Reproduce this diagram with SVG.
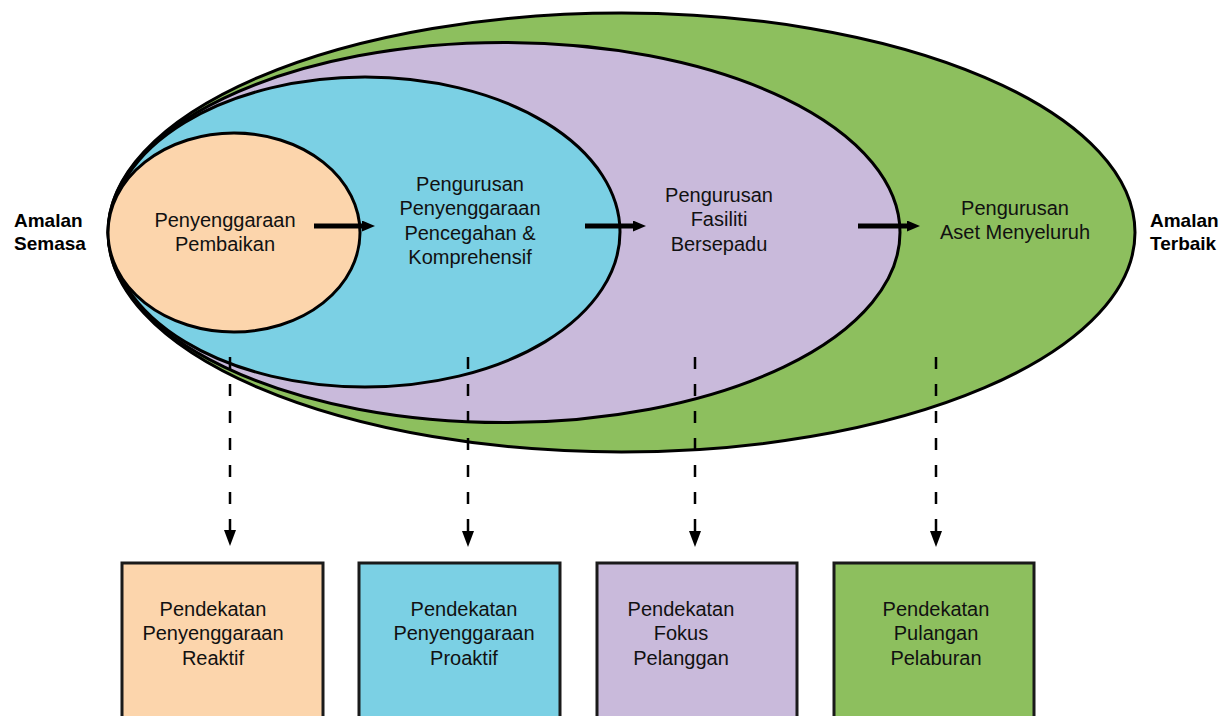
<svg xmlns="http://www.w3.org/2000/svg" width="1228" height="716" viewBox="0 0 1228 716">
<style>
.e{stroke:#000;stroke-width:3}
.t{font-family:"Liberation Sans",Arial,sans-serif;font-size:20px;fill:#111;text-anchor:middle}
.b{font-family:"Liberation Sans",Arial,sans-serif;font-size:19px;font-weight:bold;fill:#000}
.box{stroke:#1a1a1a;stroke-width:3}
.thick{stroke:#000;stroke-width:5;fill:none}
.dash{stroke:#000;stroke-width:2.5;fill:none;stroke-dasharray:12 15}
</style>
<defs>
<marker id="ah" markerUnits="userSpaceOnUse" viewBox="0 0 13 11" markerWidth="13" markerHeight="11" refX="1" refY="5.5" orient="auto">
<path d="M0,0 L13,5.5 L0,11 z" fill="#000"/>
</marker>
<marker id="dh" markerUnits="userSpaceOnUse" viewBox="0 0 16 12" markerWidth="16" markerHeight="12" refX="0" refY="6" orient="auto">
<path d="M0,0 L16,6 L0,12 z" fill="#000"/>
</marker>
</defs>
<rect width="1228" height="716" fill="#fff"/>
<g id="green"><ellipse class="e" cx="621.5" cy="232.5" rx="513.5" ry="219.5" fill="#8DBF5E"/></g>
<g id="purple"><ellipse class="e" cx="504" cy="232.5" rx="396" ry="190" fill="#C9BADB"/></g>
<g id="blue"><ellipse class="e" cx="365" cy="232" rx="255" ry="155" fill="#7BD0E4"/></g>
<g id="orange"><ellipse class="e" cx="234" cy="232.5" rx="126" ry="99.5" fill="#FCD5AC"/></g>
<g id="label-orange"><text class="t" x="225" y="227">Penyenggaraan</text><text class="t" x="225" y="251">Pembaikan</text></g>
<g id="label-blue"><text class="t" x="470" y="191">Pengurusan</text><text class="t" x="470" y="215">Penyenggaraan</text><text class="t" x="470" y="240">Pencegahan &amp;</text><text class="t" x="470" y="264">Komprehensif</text></g>
<g id="label-purple"><text class="t" x="719" y="202">Pengurusan</text><text class="t" x="719" y="226">Fasiliti</text><text class="t" x="719" y="251">Bersepadu</text></g>
<g id="label-green"><text class="t" x="1015" y="215">Pengurusan</text><text class="t" x="1015" y="239">Aset Menyeluruh</text></g>
<g id="amalan-semasa"><text class="b" x="14" y="227">Amalan</text><text class="b" x="14" y="250">Semasa</text></g>
<g id="amalan-terbaik"><text class="b" x="1150" y="227">Amalan</text><text class="b" x="1150" y="250">Terbaik</text></g>
<g id="box1"><rect class="box" x="122" y="563" width="201" height="170" fill="#FCD5AC"/><text class="t" x="213" y="616">Pendekatan</text><text class="t" x="213" y="640">Penyenggaraan</text><text class="t" x="213" y="665">Reaktif</text></g>
<g id="box2"><rect class="box" x="359" y="563" width="201" height="170" fill="#7BD0E4"/><text class="t" x="464" y="616">Pendekatan</text><text class="t" x="464" y="640">Penyenggaraan</text><text class="t" x="464" y="665">Proaktif</text></g>
<g id="box3"><rect class="box" x="597" y="563" width="200" height="170" fill="#C9BADB"/><text class="t" x="681" y="616">Pendekatan</text><text class="t" x="681" y="640">Fokus</text><text class="t" x="681" y="665">Pelanggan</text></g>
<g id="box4"><rect class="box" x="834" y="563" width="200" height="170" fill="#8DBF5E"/><text class="t" x="936" y="616">Pendekatan</text><text class="t" x="936" y="640">Pulangan</text><text class="t" x="936" y="665">Pelaburan</text></g>
<g id="connectors">
<line class="thick" x1="314" y1="226" x2="363" y2="226" marker-end="url(#ah)"/>
<line class="thick" x1="585" y1="226" x2="634" y2="226" marker-end="url(#ah)"/>
<line class="thick" x1="858" y1="226" x2="908" y2="226" marker-end="url(#ah)"/>
<line class="dash" x1="230" y1="357" x2="230" y2="530" marker-end="url(#dh)"/>
<line class="dash" x1="468" y1="357" x2="468" y2="531" marker-end="url(#dh)"/>
<line class="dash" x1="695" y1="357" x2="695" y2="531" marker-end="url(#dh)"/>
<line class="dash" x1="936" y1="357" x2="936" y2="531" marker-end="url(#dh)"/>
</g>
</svg>
